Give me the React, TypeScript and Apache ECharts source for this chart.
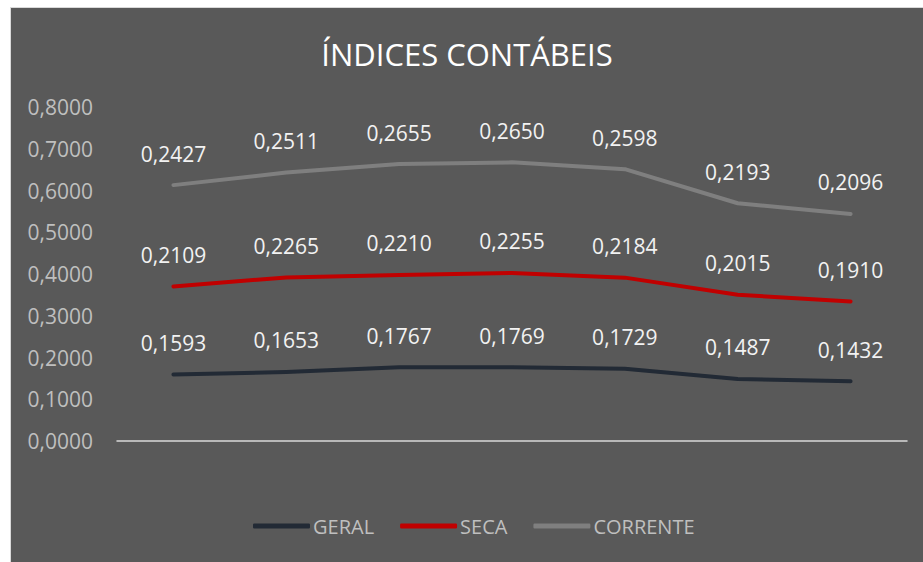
import React, { useEffect, useRef } from "react";
import * as echarts from "echarts";

const categories = ["1", "2", "3", "4", "5", "6", "7"];
const geral = [0.1593, 0.1653, 0.1767, 0.1769, 0.1729, 0.1487, 0.1432];
const seca = [0.2109, 0.2265, 0.221, 0.2255, 0.2184, 0.2015, 0.191];
const corrente = [0.2427, 0.2511, 0.2655, 0.265, 0.2598, 0.2193, 0.2096];

const fmt = (v: number) => v.toFixed(4).replace(".", ",");
const FONT = "'Open Sans', 'Noto Sans', sans-serif";

export default function App() {
  const ref = useRef<HTMLDivElement>(null);
  useEffect(() => {
    if (!ref.current) return;
    const chart = echarts.init(ref.current, null, { renderer: "svg" });
    const mk = (name: string, data: number[], color: string) => ({
      name,
      type: "line",
      stack: "total",
      data,
      symbol: "circle",
      symbolSize: 0,
      showSymbol: true,
      lineStyle: { color, width: 4, cap: "round", join: "round" },
      itemStyle: { color },
      label: {
        show: true,
        position: "top",
        distance: 21,
        color: "#f2f2f2",
        fontSize: 21,
        fontFamily: FONT,
        formatter: (p: any) => fmt(p.value),
      },
    });
    chart.setOption({
      animation: false,
      backgroundColor: "#595959",
      title: {
        text: "ÍNDICES CONTÁBEIS",
        left: "center",
        top: 25,
        textStyle: { color: "#ffffff", fontSize: 31, fontWeight: "normal", fontFamily: FONT },
      },
      grid: { left: 106, right: 16, top: 99, bottom: 121 },
      xAxis: {
        type: "category",
        data: categories,
        boundaryGap: true,
        axisLine: { show: true, lineStyle: { color: "#d9d9d9", width: 1.5 } },
        axisTick: { show: false },
        axisLabel: { show: false },
      },
      yAxis: {
        type: "value",
        min: 0,
        max: 0.8,
        interval: 0.1,
        axisLine: { show: false },
        axisTick: { show: false },
        splitLine: { show: false },
        axisLabel: {
          color: "#bfbfbf",
          fontSize: 21,
          fontFamily: FONT,
          margin: 24,
          formatter: (v: number) => fmt(v),
        },
      },
      legend: {
        left: 237,
        top: 503,
        itemWidth: 57,
        itemHeight: 5,
        itemGap: 26,
        icon: "roundRect",
        textStyle: { color: "#bfbfbf", fontSize: 20, fontFamily: FONT, padding: [0, 0, 0, -2] },
        data: ["GERAL", "SECA", "CORRENTE"],
      },
      series: [
        mk("GERAL", geral, "#222a35"),
        mk("SECA", seca, "#c00000"),
        mk("CORRENTE", corrente, "#7f7f7f"),
      ],
    });
    return () => chart.dispose();
  }, []);
  return (
    <div style={{ position: "absolute", left: 0, top: 0, width: 923, height: 562, background: "#ffffff", overflow: "hidden" }}>
      <div
        style={{
          position: "absolute",
          left: 10,
          top: 7,
          width: 913,
          height: 555,
          borderTop: "1px solid #d9d9d9",
          borderLeft: "1px solid #d9d9d9",
          boxSizing: "border-box",
        }}
      >
        <div ref={ref} style={{ width: 912, height: 554 }} />
      </div>
    </div>
  );
}
